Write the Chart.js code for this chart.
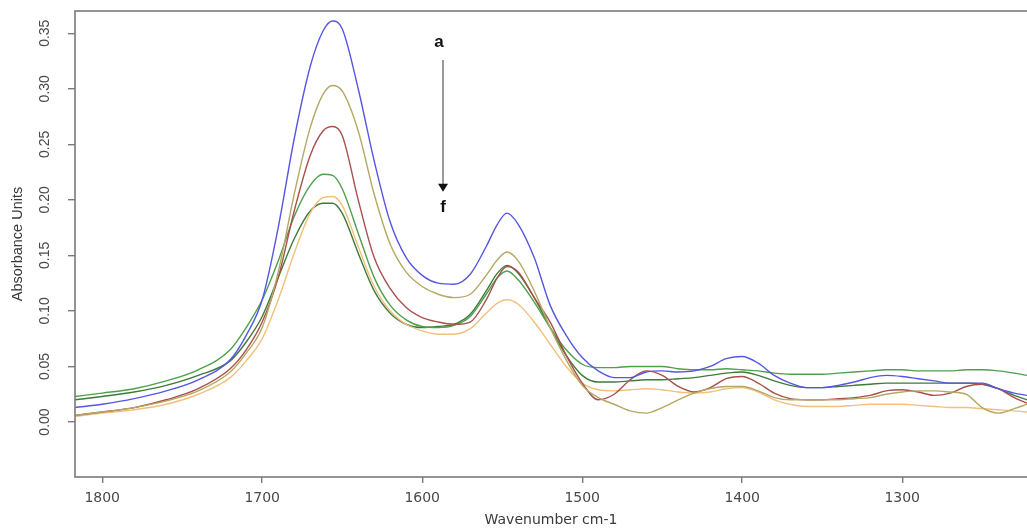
<!DOCTYPE html>
<html>
<head>
<meta charset="utf-8">
<script src="https://cdn.jsdelivr.net/npm/chart.js@4/dist/chart.umd.min.js"></script>
<style>
  html, body { margin: 0; padding: 0; background: #fff; }
  #wrap { width: 1027px; height: 529px; }
</style>
</head>
<body>
<div id="wrap"><canvas id="spectra"></canvas></div>
<script>
// wavenumbers (cm-1)
const wavenumbers = [1817,1800,1780,1760,1740,1720,1710,1700,1690,1680,1670,1662,1656,1650,1640,1630,1620,1610,1600,1590,1580,1570,1560,1553,1547,1540,1530,1520,1510,1500,1490,1480,1470,1460,1450,1440,1430,1420,1410,1400,1390,1380,1370,1360,1350,1340,1330,1320,1310,1300,1290,1280,1270,1260,1250,1240,1230,1222];

// spectrum a (blue)
const specA = [0.013,0.016,0.021,0.028,0.038,0.056,0.078,0.11,0.175,0.255,0.32,0.352,0.361,0.354,0.30,0.235,0.18,0.148,0.132,0.125,0.124,0.133,0.158,0.178,0.188,0.178,0.148,0.105,0.078,0.058,0.046,0.04,0.04,0.045,0.046,0.045,0.046,0.05,0.057,0.059,0.053,0.042,0.035,0.031,0.031,0.033,0.036,0.04,0.042,0.041,0.039,0.037,0.035,0.035,0.035,0.03,0.026,0.024];
// spectrum b (khaki)
const specB = [0.006,0.009,0.013,0.019,0.028,0.045,0.062,0.085,0.135,0.205,0.265,0.295,0.303,0.298,0.262,0.205,0.16,0.135,0.122,0.115,0.112,0.115,0.132,0.146,0.153,0.145,0.118,0.085,0.056,0.033,0.022,0.016,0.01,0.008,0.013,0.02,0.026,0.03,0.032,0.032,0.028,0.022,0.02,0.02,0.02,0.02,0.021,0.022,0.025,0.027,0.028,0.028,0.027,0.025,0.013,0.008,0.012,0.016];
// spectrum c (dark red)
const specC = [0.006,0.009,0.013,0.02,0.03,0.048,0.065,0.09,0.13,0.19,0.24,0.262,0.266,0.258,0.20,0.148,0.12,0.103,0.094,0.09,0.088,0.09,0.11,0.13,0.14,0.135,0.112,0.09,0.06,0.035,0.02,0.025,0.038,0.046,0.042,0.032,0.027,0.031,0.039,0.041,0.035,0.026,0.021,0.02,0.02,0.021,0.022,0.024,0.028,0.029,0.027,0.024,0.026,0.032,0.034,0.03,0.022,0.017];
// spectrum d (green)
const specD = [0.023,0.026,0.03,0.037,0.047,0.065,0.085,0.11,0.145,0.185,0.213,0.223,0.222,0.21,0.17,0.13,0.105,0.092,0.086,0.085,0.087,0.095,0.115,0.13,0.136,0.128,0.108,0.085,0.065,0.052,0.049,0.049,0.05,0.05,0.05,0.048,0.047,0.047,0.048,0.047,0.046,0.044,0.043,0.043,0.043,0.044,0.045,0.046,0.047,0.047,0.046,0.046,0.046,0.047,0.047,0.046,0.044,0.042];
// spectrum e (orange)
const specE = [0.005,0.008,0.011,0.016,0.025,0.04,0.055,0.075,0.11,0.152,0.188,0.202,0.203,0.195,0.158,0.122,0.1,0.088,0.082,0.079,0.079,0.084,0.098,0.107,0.11,0.106,0.09,0.07,0.05,0.035,0.029,0.028,0.029,0.03,0.029,0.027,0.026,0.027,0.03,0.031,0.027,0.02,0.016,0.014,0.014,0.014,0.015,0.016,0.016,0.016,0.015,0.014,0.013,0.013,0.012,0.011,0.01,0.009];
// spectrum f (dark green)
const specF = [0.02,0.023,0.027,0.033,0.042,0.055,0.072,0.095,0.13,0.165,0.19,0.197,0.197,0.188,0.152,0.118,0.098,0.088,0.085,0.086,0.088,0.097,0.118,0.134,0.141,0.134,0.112,0.085,0.06,0.042,0.036,0.036,0.037,0.038,0.038,0.039,0.04,0.042,0.044,0.045,0.042,0.037,0.033,0.031,0.031,0.032,0.033,0.034,0.035,0.035,0.035,0.035,0.035,0.035,0.034,0.03,0.024,0.02];

const xTicks = [1800, 1700, 1600, 1500, 1400, 1300];
const yTicks = [0.00, 0.05, 0.10, 0.15, 0.20, 0.25, 0.30, 0.35];

const series = [
  { name: 'a', values: specA, color: '#5656e4' },
  { name: 'b', values: specB, color: '#b4a862' },
  { name: 'c', values: specC, color: '#a8504c' },
  { name: 'd', values: specD, color: '#4ea04e' },
  { name: 'e', values: specE, color: '#f2c07c' },
  { name: 'f', values: specF, color: '#3f7a3a' }
];

// plot box: top, left and bottom lines (right side runs off the picture)
const frame = {
  id: 'frame',
  afterDraw(chart) {
    const { ctx, chartArea: a } = chart;
    ctx.save();
    ctx.strokeStyle = '#7a7a7a';
    ctx.lineWidth = 1.6;
    ctx.strokeRect(a.left, a.top, a.right - a.left + 2, a.bottom - a.top);
    ctx.restore();
  }
};

// "a -> f" arrow, placed in data units
const arrow = {
  id: 'arrow',
  afterDatasetsDraw(chart) {
    const { ctx, scales: { x, y } } = chart;
    const px = x.getPixelForValue(1587);
    const y0 = y.getPixelForValue(0.326), y1 = y.getPixelForValue(0.209);
    ctx.save();
    ctx.strokeStyle = '#9a9a9a';
    ctx.lineWidth = 2;
    ctx.beginPath(); ctx.moveTo(px, y0); ctx.lineTo(px, y1 - 2); ctx.stroke();
    ctx.fillStyle = '#111';
    ctx.beginPath();
    ctx.moveTo(px - 5, y1 - 6); ctx.lineTo(px + 5, y1 - 6); ctx.lineTo(px, y1 + 2);
    ctx.closePath(); ctx.fill();
    ctx.font = 'bold 17px "Liberation Sans", Arial, sans-serif';
    ctx.textAlign = 'center';
    ctx.textBaseline = 'middle';
    ctx.fillText('a', px - 4, y.getPixelForValue(0.342));
    ctx.fillText('f', px, y.getPixelForValue(0.193));
    ctx.restore();
  }
};

new Chart(document.getElementById('spectra'), {
  type: 'line',
  data: {
    datasets: series.map(s => ({
      label: s.name,
      data: wavenumbers.map((w, i) => ({ x: w, y: s.values[i] })),
      borderColor: s.color,
      borderWidth: 1.4,
      pointRadius: 0,
      fill: false,
      cubicInterpolationMode: 'monotone'
    }))
  },
  options: {
    responsive: true,
    maintainAspectRatio: false,
    animation: false,
    layout: { padding: { top: 11, right: 0, bottom: 0, left: 0 } },
    plugins: { legend: { display: false }, tooltip: { enabled: false } },
    scales: {
      x: {
        type: 'linear',
        reverse: true,
        min: 1222,
        max: 1817,
        afterBuildTicks: s => { s.ticks = xTicks.map(v => ({ value: v })); },
        afterFit: s => { s.height = 52; s.paddingLeft = 0; s.paddingRight = 0; },
        grid: { drawOnChartArea: false, drawTicks: true, tickLength: 6, color: '#7a7a7a', lineWidth: 1.4 },
        border: { display: false },
        ticks: {
          padding: 7,
          color: '#4a4a4a',
          font: { family: '"DejaVu Sans", sans-serif', size: 14 },
          maxRotation: 0,
          callback: v => String(v)
        },
        title: {
          display: true,
          text: 'Wavenumber cm-1',
          color: '#3a3a3a',
          font: { family: '"DejaVu Sans", sans-serif', size: 14 },
          padding: { top: 0, bottom: 0 }
        }
      },
      y: {
        min: -0.0495,
        max: 0.370,
        afterBuildTicks: s => { s.ticks = yTicks.map(v => ({ value: v })); },
        afterFit: s => { s.width = 75; s.paddingTop = 0; s.paddingBottom = 0; },
        grid: { drawOnChartArea: false, drawTicks: true, tickLength: 7, color: '#7a7a7a', lineWidth: 1.4 },
        border: { display: false },
        ticks: {
          padding: 9,
          minRotation: 90,
          maxRotation: 90,
          crossAlign: 'center',
          color: '#4a4a4a',
          font: { family: '"Liberation Sans", Arial, sans-serif', size: 14 },
          callback: v => v.toFixed(2)
        },
        title: {
          display: true,
          text: 'Absorbance Units',
          color: '#3a3a3a',
          font: { family: '"Liberation Sans", Arial, sans-serif', size: 14.5 },
          padding: { top: 9, bottom: 0 }
        }
      }
    }
  },
  plugins: [frame, arrow]
});
</script>
</body>
</html>
